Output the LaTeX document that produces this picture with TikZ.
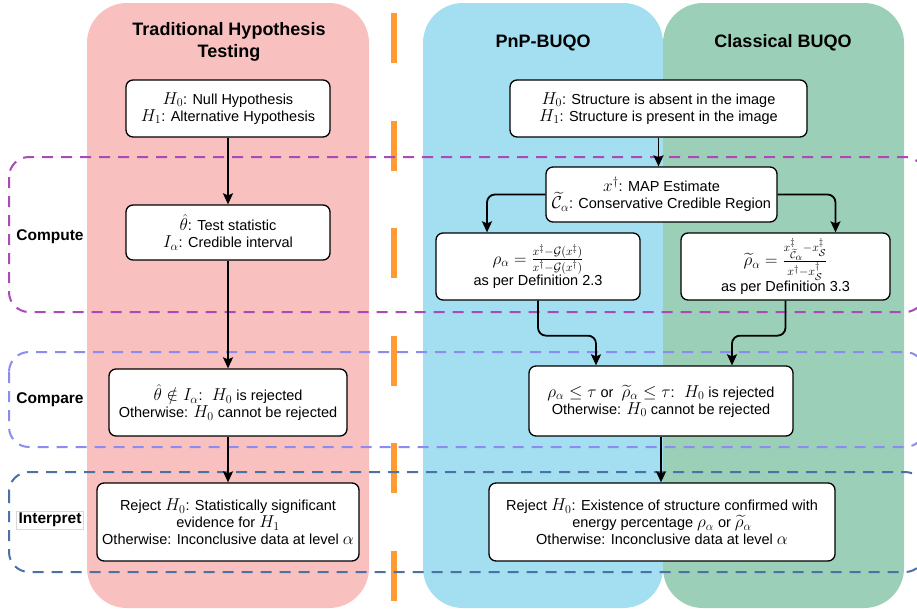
\documentclass[tikz,border=0pt]{standalone}
\usepackage{fontspec}
\setmainfont{Liberation Sans}
\usepackage{amssymb}
\usetikzlibrary{arrows.meta}
\DeclareMathSizes{14.5}{17}{12}{10}
\definecolor{pinkbg}{RGB}{248,193,191}
\definecolor{bluebg}{RGB}{163,223,241}
\definecolor{greenbg}{RGB}{155,207,184}
\definecolor{barorange}{RGB}{255,155,50}
\definecolor{computecol}{RGB}{169,74,183}
\definecolor{comparecol}{RGB}{140,140,240}
\definecolor{interpretcol}{RGB}{76,114,165}
\tikzstyle{lane} = [rounded corners=40pt]
\tikzstyle{card} = [draw=black, line width=1.3pt, fill=white, rounded corners=7pt, align=center, inner sep=3pt, font={\fontsize{14.5}{17}\selectfont}]
\tikzstyle{phase} = [line width=2pt, dash pattern=on 11pt off 8pt, rounded corners=20pt]
\tikzstyle{flow} = [-{Stealth[length=11pt,width=10pt,inset=2pt]}, line width=1.8pt]
\tikzstyle{head} = [font={\bfseries\fontsize{18}{22}\selectfont}, align=center]
\tikzstyle{tag} = [font={\bfseries\fontsize{15.5}{18}\selectfont}]

\begin{document}
\begin{tikzpicture}[x=1pt,y=-1pt]
    \useasboundingbox (0,0) rectangle (917,608);
    \clip (0,0) rectangle (917,608);
    % background lanes
    \fill[lane,pinkbg] (87,3) rectangle (369,608);
    \fill[lane,bluebg] (423,3) rectangle (663,608);
    \fill[lane,greenbg] (663,3) rectangle (904,608);
    \draw[barorange, line width=6.5pt, dash pattern=on 50pt off 57.5pt] (394,13) -- (394,608);
    % phases
    \draw[phase,computecol] (9,157) rectangle (925,312);
    \draw[phase,comparecol] (9,352) rectangle (925,447);
    \draw[phase,interpretcol] (9,472) rectangle (925,572);
    \node[tag](compute) at (50,237){Compute};
    \node[tag](compare) at (50,400){Compare};
    \node[tag, draw=black!15, line width=0.6pt, inner sep=2pt](interpret) at (50,520){Interpret};
    % headers
    \node[head](trad) at (229,42){Traditional Hypothesis\\Testing};
    \node[head](pnp) at (543,43){PnP-BUQO};
    \node[head](classic) at (783,43){Classical BUQO};
    % traditional testing
    \node[card, minimum width=204pt, minimum height=57pt](t1) at (228,108.5){$H_0$: Null Hypothesis\\$H_1$: Alternative Hypothesis};
    \node[card, minimum width=204pt, minimum height=55pt](t2) at (228,232.5){$\hat{\theta}$: Test statistic\\$I_\alpha$: Credible interval};
    \node[card, minimum width=238pt, minimum height=67pt](t3) at (228,402.5){$\hat{\theta}\notin I_\alpha$: \ $H_0$ is rejected\\Otherwise: $H_0$ cannot be rejected};
    \node[card, minimum width=262pt, minimum height=78pt](t4) at (228,522){Reject $H_0$: Statistically significant\\evidence for $H_1$\\Otherwise: Inconclusive data at level $\alpha$};
    \draw[flow](t1)--(t2);
    \draw[flow](t2)--(t3);
    \draw[flow](t3)--(t4);
    % BUQO
    \node[card, minimum width=297pt, minimum height=57pt](p1) at (658.5,108.5){$H_0$: Structure is absent in the image\\$H_1$: Structure is present in the image};
    \node[card, minimum width=231pt, minimum height=55pt](p2) at (661.5,194.5){$x^\dagger$: MAP Estimate\\$\widetilde{\mathcal{C}}_\alpha$: Conservative Credible Region};
    \node[card, minimum width=204pt, minimum height=67pt](p3) at (538,266.5){$\rho_\alpha=\frac{x^\ddagger-\mathcal{G}(x^\ddagger)}{x^\dagger-\mathcal{G}(x^\dagger)}$\\as per Definition 2.3};
    \node[card, minimum width=209pt, minimum height=67pt](p4) at (785.5,266.5){$\widetilde{\rho}_\alpha=\frac{x^\ddagger_{\widetilde{\mathcal{C}}_\alpha}-x^\ddagger_{\mathcal{S}}}{x^\dagger-x^\dagger_{\mathcal{S}}}$\\as per Definition 3.3};
    \node[card, minimum width=264pt, minimum height=70pt](p5) at (661,401){$\rho_\alpha\leq\tau$ or \ $\widetilde{\rho}_\alpha\leq\tau$: \ $H_0$ is rejected\\Otherwise: $H_0$ cannot be rejected};
    \node[card, minimum width=346pt, minimum height=78pt](p6) at (662,522){Reject $H_0$: Existence of structure confirmed with\\energy percentage $\rho_\alpha$ or $\widetilde{\rho}_\alpha$\\Otherwise: Inconclusive data at level $\alpha$};
    \draw[flow](p1.south)--(p1.south|-p2.north);
    \draw[flow, rounded corners=8pt](p2.west)-|([xshift=-51pt]p3.north);
    \draw[flow, rounded corners=8pt](p2.east)-|([xshift=50pt]p4.north);
    \draw[flow, rounded corners=8pt](p3.south)--++(0,35)-|([xshift=-65pt]p5.north);
    \draw[flow, rounded corners=8pt](p4.south)--++(0,35)-|([xshift=71pt]p5.north);
    \draw[flow](p5.south)--(p5.south|-p6.north);
  \end{tikzpicture}
\end{document}
